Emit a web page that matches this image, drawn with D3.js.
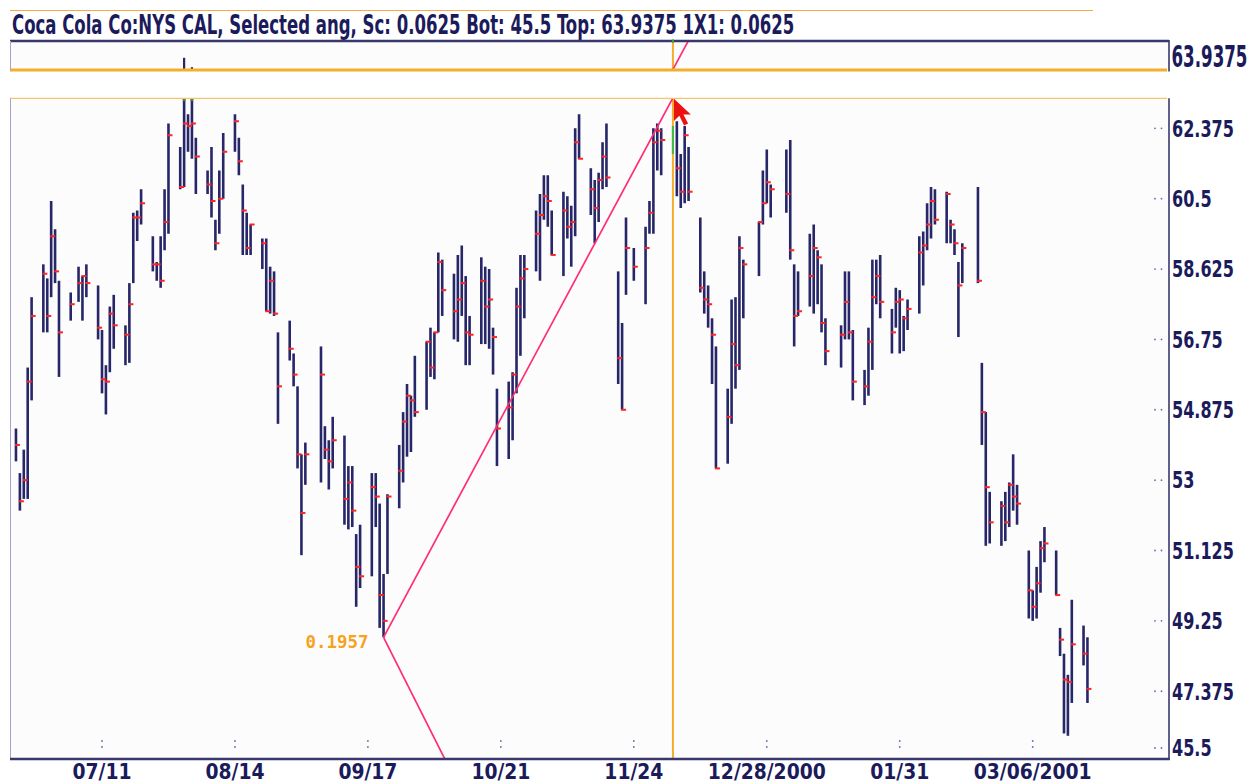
<!DOCTYPE html>
<html>
<head>
<meta charset="utf-8">
<script src="https://cdn.jsdelivr.net/npm/d3@7"></script>
<style>
body { margin: 0; background: #ffffff; }
</style>
</head>
<body>
<script>
// canvas size
var w = 1252;
var h = 784;

// chart title
var title = "Coca Cola Co:NYS CAL, Selected ang, Sc: 0.0625 Bot: 45.5 Top: 63.9375 1X1: 0.0625";

// trading days shown on the chart
var dates = [
  "2000-06-19","2000-06-20","2000-06-21","2000-06-22","2000-06-23",
  "2000-06-26","2000-06-27","2000-06-28","2000-06-29","2000-06-30",
  "2000-07-03","2000-07-05","2000-07-06","2000-07-07",
  "2000-07-10","2000-07-11","2000-07-12","2000-07-13","2000-07-14",
  "2000-07-17","2000-07-18","2000-07-19","2000-07-20","2000-07-21",
  "2000-07-24","2000-07-25","2000-07-26","2000-07-27","2000-07-28",
  "2000-07-31","2000-08-01","2000-08-02","2000-08-03","2000-08-04",
  "2000-08-07","2000-08-08","2000-08-09","2000-08-10","2000-08-11",
  "2000-08-14","2000-08-15","2000-08-16","2000-08-17","2000-08-18",
  "2000-08-21","2000-08-22","2000-08-23","2000-08-24","2000-08-25",
  "2000-08-28","2000-08-29","2000-08-30","2000-08-31","2000-09-01",
  "2000-09-05","2000-09-06","2000-09-07","2000-09-08",
  "2000-09-11","2000-09-12","2000-09-13","2000-09-14","2000-09-15",
  "2000-09-18","2000-09-19","2000-09-20","2000-09-21","2000-09-22",
  "2000-09-25","2000-09-26","2000-09-27","2000-09-28","2000-09-29",
  "2000-10-02","2000-10-03","2000-10-04","2000-10-05","2000-10-06",
  "2000-10-09","2000-10-10","2000-10-11","2000-10-12","2000-10-13",
  "2000-10-16","2000-10-17","2000-10-18","2000-10-19","2000-10-20",
  "2000-10-23","2000-10-24","2000-10-25","2000-10-26","2000-10-27",
  "2000-10-30","2000-10-31","2000-11-01","2000-11-02","2000-11-03",
  "2000-11-06","2000-11-07","2000-11-08","2000-11-09","2000-11-10",
  "2000-11-13","2000-11-14","2000-11-15","2000-11-16","2000-11-17",
  "2000-11-20","2000-11-21","2000-11-22","2000-11-24",
  "2000-11-27","2000-11-28","2000-11-29","2000-11-30","2000-12-01",
  "2000-12-04","2000-12-05","2000-12-06","2000-12-07","2000-12-08",
  "2000-12-11","2000-12-12","2000-12-13","2000-12-14","2000-12-15",
  "2000-12-18","2000-12-19","2000-12-20","2000-12-21","2000-12-22",
  "2000-12-26","2000-12-27","2000-12-28","2000-12-29",
  "2001-01-02","2001-01-03","2001-01-04","2001-01-05",
  "2001-01-08","2001-01-09","2001-01-10","2001-01-11","2001-01-12",
  "2001-01-16","2001-01-17","2001-01-18","2001-01-19",
  "2001-01-22","2001-01-23","2001-01-24","2001-01-25","2001-01-26",
  "2001-01-29","2001-01-30","2001-01-31","2001-02-01","2001-02-02",
  "2001-02-05","2001-02-06","2001-02-07","2001-02-08","2001-02-09",
  "2001-02-12","2001-02-13","2001-02-14","2001-02-15","2001-02-16",
  "2001-02-20","2001-02-21","2001-02-22","2001-02-23",
  "2001-02-26","2001-02-27","2001-02-28","2001-03-01","2001-03-02",
  "2001-03-05","2001-03-06","2001-03-07","2001-03-08","2001-03-09",
  "2001-03-12","2001-03-13","2001-03-14","2001-03-15","2001-03-16",
  "2001-03-19","2001-03-20"
];

var highs = [
  54.375,53.1875,53.8125,56,57.875, 58.75,58.375,60.4375,59.6875,58.3125,
  58,58.6875,58.4375,58.75, 58.1875,57,56.0625,57.625,57.9375,
  57.125,58.25,60.125,60.1875,60.75, 59.5,58.8125,59.5,60.75,62.5,
  61.875,63.5,62.75,63.25,62.125, 61.25,61.875,59.9375,61.25,62.25,
  62.75,62.125,60.875,60.125,59.8125, 59.4375,59.4375,58.6875,58.5625,56.9375,
  57.25,56.375,55.5,53.6875,54, 56.5625,54.4375,54.0625,54.6875,
  54.1875,53.375,53.375,51.5625,51.8125, 53.1875,53.1875,52.375,50.5,52.625,
  53.9375,54.8125,55.5625,55.25,56.3125, 56.6875,57.0625,56.9375,59.0625,58.875,
  58.5,59,59.25,58.4375,57.375, 58.9375,58.6875,58.625,57.0625,55.4375,
  55.625,55.875,58.125,59,59, 60.1875,60.625,61.125,61.125,60.1875,
  60.6875,60.5625,60.3125,62.375,62.75, 61.3125,61,61.1875,62,62.5,
  58.5625,57.1875,60,59.1875, 59.75,60.4375,62.375,62.5,62.375,
  62.4375,62.5625,61.6875,62.4375,61.875, 60,58.5625,58.1875,57.3125,56.5625,
  55.4375,57.8125,57.875,59.5,58.875, 59.875,61.25,61.8125,60.875,
  61.8125,62.0625,58.75,58.5625, 59.5625,59.8125,59.125,58.75,57.3125,
  57.125,58.5625,58.5625,57, 55.9375,57.0625,58.875,58.875,59,
  57.5625,58.125,58.0625,57.375,57.8125, 59.5,59.625,60.375,60.8125,60.75,
  60.6875,59.9375,59.6875,58.8125,59.3125, 60.8125,56.125,54.8125,52.6875,
  52.4375,52.6875,52.9375,53.6875,52.875, 51.125,50.0625,50.6875,51.375,51.75,
  51.125,49.0625,48.375,47.8125,49.8125, 49.125,48.8125
];

var lows = [
  53.5,52.1875,52.5,52.5,55.125, 56.9375,56.9375,57.875,58.25,55.75,
  57.25,57.75,57.25,57.875, 56.75,55.3125,54.75,55.875,56.5,
  56.0625,56.125,58.25,59.375,59.8125, 58.5625,58.3125,58.125,59.125,59.5625,
  60.75,60.8125,61.75,61.5625,60.625, 60.625,60,59.125,59.5625,60.5,
  61.75,61.125,59,59,59, 58.625,57.5,57.4375,57.375,54.5,
  56.1875,55.5,53.3125,51,52.875, 52.9375,53.5625,52.75,53.3125,
  51.8125,51.6875,51.75,49.625,50.125, 50.4375,51.75,49.0625,48.8125,50.5,
  52.25,52.9375,53.625,53.75,54.6875, 54.875,55.75,55.6875,56.9375,57.375,
  56.75,56.6875,57.375,56.0625,56.0625, 56.625,56.625,56.5,55.8125,53.375,
  53.5625,54.0625,55.3125,56.3125,57.3125, 58.5625,58.3125,59.9375,59.75,59,
  58.4375,59.4375,58.6875,59.5,61.5625, 60.0625,59.3125,59.875,60.75,60.8125,
  55.5625,54.875,57.9375,58.3125, 57.6875,59.5625,59.5625,61.25,61.125,
  61.6875,60.5625,60.25,60.375,60.4375, 58,57.4375,57.0625,55.5625,53.3125,
  53.4375,54.5,55.4375,55.9375,57.3125, 58.4375,59.8125,60.375,60,
  60.125,58.875,56.5625,57.375, 57.625,57.4375,57.6875,56.9375,56.0625,
  56,56.75,56.75,55.125, 55,55.25,55.9375,57.6875,57.3125,
  56.375,57.0625,56.375,56.4375,57, 57.4375,58.1875,59.125,59.4375,59.8125,
  59.3125,59.3125,59,56.8125,58.25, 58.25,53.9375,51.25,51.3125,
  51.25,51.375,51.75,52.1875,51.8125, 49.3125,49.25,49.3125,50,50.8125,
  49.9375,48.3125,46.25,46.1875,47.0625, 48.0625,47.0625
];

var closes = [
  53.9375,52.4375,53,55.625,57.375, 58.5,57.375,59.5,58.5625,56.9375,
  57.6875,58.25,58.4375,58.25, 57.0625,55.6875,55.625,57.4375,57.125,
  56.875,57.6875,60,60,60.375, 58.75,58.75,58.3125,59.875,62.1875,
  60.8125,62.5,62.4375,62.5,61.625, 60.875,60.4375,59.3125,60.5,61.75,
  62.5625,61.5,60.1875,59.1875,59.8125, 59.3125,57.5,58.3125,57.4375,55.5,
  56.5,55.8125,53.6875,52.125,53.6875, 55.8125,53.8125,53.5,54.0625,
  52.5,52.9375,52.1875,50.6875,50.4375, 52.8125,52.5625,49.9375,49.25,52.5625,
  53.25,54.5625,55.25,55.125,54.8125, 56.6875,56,56.9375,58.8125,58.0625,
  57.5,57.8125,58.25,56.9375,56.875, 58.3125,57.625,57.8125,56.8125,54.375,
  54.9375,55.8125,57.625,58.375,58.625, 59.5625,60.0625,60.5625,60.4375,59,
  60.1875,59.75,59.875,62,61.5625, 60.75,60.25,61,61.625,61.0625,
  56.25,54.875,59.1875,58.6875, 59.1875,60.125,62,62.3125,62.0625,
  62,61.3125,60.6875,62.1875,60.6875, 58.125,57.8125,57.6875,56.875,53.3125,
  54.6875,56.625,56.0625,59.1875,58.75, 59.875,60.375,60.9375,60.75,
  60.625,59.125,57.375,57.5, 58.4375,59.1875,58.9375,57.1875,56.4375,
  56.875,57.75,56.9375,55.625, 55.5,56.6875,57.875,58.4375,57.75,
  56.9375,57.75,57.8125,57.3125,57.5625, 59.0625,59.25,59.8125,60.4375,59.9375,
  60.625,59.8125,59.3125,58.1875,59.1875, 58.3125,54.8125,52.8125,51.875,
  52.3125,51.875,52.875,52.5625,52.375, 50.0625,49.625,50.25,51.1875,51.3125,
  49.9375,48.75,47.6875,47.625,48.625, 48.375,47.4375
];

// selected bar (drawn green, marked by the vertical cursor line)
var selectedDate = "2000-12-04";

// price axis labels
var yTicks = [62.375, 60.5, 58.625, 56.75, 54.875, 53, 51.125, 49.25, 47.375, 45.5];
var topValue = 63.9375;

// date axis labels
var xTickDates = ["2000-07-11","2000-08-14","2000-09-17","2000-10-21","2000-11-24","2000-12-28","2001-01-31","2001-03-06"];
var xTickLabels = ["07/11","08/14","09/17","10/21","11/24","12/28/2000","01/31","03/06/2001"];

// angle tool: pivot, the point it runs up to and the down leg
var angleStart = { date: "2000-09-21", value: 48.8125 };
var angleEnd = { date: "2000-12-04", value: 63.1875 };
var angleDown = { date: "2000-10-07", value: 45.5 };
var angleLabel = "0.1957";

// layout
var left = 10, right = 1169;
var mainTop = 98.3, mainBottom = 759;
var panelTop = 41, panelBottom = 70;
var panelShift = mainTop - panelBottom; // top strip continues the price scale

var navy = "#1b1b5c";
var barColor = "#262668";
var orange = "#f5ae2c";
var pink = "#ff2d78";
var font = "'DejaVu Sans Condensed', 'DejaVu Sans', sans-serif";

var parse = d3.utcParse("%Y-%m-%d");

var bars = dates.map(function(d, i) {
  return { date: parse(d), key: d, high: highs[i], low: lows[i], close: closes[i] };
});

var x = d3.scaleUtc()
  .domain([parse("2000-07-11"), parse("2001-03-06")])
  .range([102, 1032.7]);

var y = d3.scaleLinear()
  .domain([45.5, 62.375])
  .range([761.6, 128.3]);

var svg = d3.select("body")
  .append("svg")
  .attr("width", w)
  .attr("height", h);

var defs = svg.append("defs");
defs.append("clipPath").attr("id", "clipMain")
  .append("rect")
  .attr("x", left).attr("y", mainTop)
  .attr("width", right - left).attr("height", mainBottom - mainTop);
defs.append("clipPath").attr("id", "clipTop")
  .append("rect")
  .attr("x", left).attr("y", panelTop)
  .attr("width", right - left).attr("height", panelBottom - panelTop);

// narrow text: placed in a group at (px, py), then scaled horizontally
function narrowText(parent, px, py, str, size, anchor, family) {
  var t = parent.append("g")
    .attr("transform", "translate(" + px + "," + py + ")")
    .append("text")
    .attr("text-anchor", anchor || "start")
    .attr("font-family", family || font)
    .attr("font-weight", "bold")
    .attr("font-size", size)
    .attr("fill", navy)
    .text(str);
  return t;
}
function squeeze(t, k) {
  t.attr("transform", "scale(" + k + ",1)");
}

// top rule and title
svg.append("line")
  .attr("x1", left).attr("x2", 1093)
  .attr("y1", 10.5).attr("y2", 10.5)
  .attr("stroke", "#f6a84a").attr("stroke-width", 1);

var titleText = narrowText(svg, 12, 34, title, 26);
squeeze(titleText, 783 / titleText.node().getComputedTextLength());

// panel backgrounds
svg.append("rect")
  .attr("x", left).attr("y", panelTop)
  .attr("width", right - left).attr("height", panelBottom - panelTop)
  .attr("fill", "#fcfcfc");
svg.append("rect")
  .attr("x", left).attr("y", mainTop)
  .attr("width", right - left).attr("height", mainBottom - mainTop)
  .attr("fill", "#fcfcfc");

var selX = x(parse(selectedDate));

// ---------- main panel ----------
var main = svg.append("g").attr("clip-path", "url(#clipMain)");

// vertical cursor line
main.append("line")
  .attr("x1", selX).attr("x2", selX)
  .attr("y1", mainTop).attr("y2", mainBottom)
  .attr("stroke", orange).attr("stroke-width", 2);

// high-low bars
main.selectAll(".bar")
  .data(bars.filter(function(d) { return d.key !== selectedDate; }))
  .enter()
  .append("line")
  .attr("class", "bar")
  .attr("x1", function(d) { return x(d.date); })
  .attr("x2", function(d) { return x(d.date); })
  .attr("y1", function(d) { return y(d.high); })
  .attr("y2", function(d) { return y(d.low); })
  .attr("stroke", barColor)
  .attr("stroke-width", 2.6);

// bars running past the top edge get a green tip
main.selectAll(".tip")
  .data(bars.filter(function(d) { return y(d.high) < mainTop; }))
  .enter()
  .append("line")
  .attr("x1", function(d) { return x(d.date); })
  .attr("x2", function(d) { return x(d.date); })
  .attr("y1", mainTop)
  .attr("y2", mainTop + 3)
  .attr("stroke", "#3c8c3c")
  .attr("stroke-width", 2.6);

// close ticks
main.selectAll(".close")
  .data(bars.filter(function(d) { return d.key !== selectedDate; }))
  .enter()
  .append("line")
  .attr("class", "close")
  .attr("x1", function(d) { return x(d.date) - 1; })
  .attr("x2", function(d) { return x(d.date) + 4; })
  .attr("y1", function(d) { return y(d.close); })
  .attr("y2", function(d) { return y(d.close); })
  .attr("stroke", "#ff2424")
  .attr("stroke-width", 2);

// selected bar
var selBar = bars.filter(function(d) { return d.key === selectedDate; })[0];
main.append("line")
  .attr("x1", selX).attr("x2", selX)
  .attr("y1", y(selBar.high)).attr("y2", y(selBar.low))
  .attr("stroke", "#44bb44").attr("stroke-width", 2.2);

// angle lines
var p0 = [x(parse(angleStart.date)), y(angleStart.value)];
var p1 = [x(parse(angleEnd.date)), y(angleEnd.value)];
var p2 = [x(parse(angleDown.date)), y(angleDown.value)];

main.append("line")
  .attr("x1", p0[0]).attr("y1", p0[1])
  .attr("x2", p1[0]).attr("y2", p1[1])
  .attr("stroke", pink).attr("stroke-width", 1.7);
main.append("line")
  .attr("x1", p0[0]).attr("y1", p0[1])
  .attr("x2", p2[0]).attr("y2", p2[1])
  .attr("stroke", pink).attr("stroke-width", 1.7);

var angText = narrowText(main, p0[0] - 15, p0[1] + 11, angleLabel, 17, "end", "'DejaVu Sans Mono', monospace")
  .attr("fill", "#f7a21e");
squeeze(angText, 63 / angText.node().getComputedTextLength());

// mouse cursor at the end of the angle line
var arrow = [[0,0],[0,17],[4,13],[7.5,20.5],[10.5,19],[7,12],[12.5,12]];
svg.append("polygon")
  .attr("points", arrow.map(function(p) { return [p1[0] + 1 + p[0] * 1.35, p1[1] + 1 + p[1] * 1.3].join(","); }).join(" "))
  .attr("fill", "#ee1111");

// ---------- top strip (continuation of the price scale) ----------
var topG = svg.append("g").attr("clip-path", "url(#clipTop)")
  .append("g").attr("transform", "translate(0," + (-panelShift) + ")");

topG.selectAll(".bar")
  .data(bars.filter(function(d) { return y(d.high) < mainTop; }))
  .enter()
  .append("line")
  .attr("x1", function(d) { return x(d.date); })
  .attr("x2", function(d) { return x(d.date); })
  .attr("y1", function(d) { return y(d.high); })
  .attr("y2", mainTop)
  .attr("stroke", barColor)
  .attr("stroke-width", 2.2);

topG.append("line")
  .attr("x1", selX).attr("x2", selX)
  .attr("y1", y(topValue) - 5).attr("y2", mainTop)
  .attr("stroke", orange).attr("stroke-width", 2);

var ext = 1.2;
topG.append("line")
  .attr("x1", p0[0]).attr("y1", p0[1])
  .attr("x2", p0[0] + (p1[0] - p0[0]) * ext)
  .attr("y2", p0[1] + (p1[1] - p0[1]) * ext)
  .attr("stroke", pink).attr("stroke-width", 1.7);

// ---------- frames ----------
// top strip
svg.append("line")
  .attr("x1", left).attr("x2", right)
  .attr("y1", panelTop).attr("y2", panelTop)
  .attr("stroke", "#38386e").attr("stroke-width", 2.5);
svg.append("line")
  .attr("x1", selX).attr("x2", selX)
  .attr("y1", panelTop - 1.5).attr("y2", panelTop + 1.5)
  .attr("stroke", "#3c9c3c").attr("stroke-width", 2);
svg.append("line")
  .attr("x1", left).attr("x2", right - 2)
  .attr("y1", panelBottom).attr("y2", panelBottom)
  .attr("stroke", orange).attr("stroke-width", 3);
svg.append("line")
  .attr("x1", left + 0.5).attr("x2", left + 0.5)
  .attr("y1", panelTop).attr("y2", panelBottom)
  .attr("stroke", "#a4a4c8").attr("stroke-width", 1);
svg.append("line")
  .attr("x1", right).attr("x2", right)
  .attr("y1", panelTop - 1).attr("y2", panelBottom + 1.5)
  .attr("stroke", "#38386e").attr("stroke-width", 1.6);

// main panel
svg.append("line")
  .attr("x1", left).attr("x2", right - 2)
  .attr("y1", mainTop).attr("y2", mainTop)
  .attr("stroke", "#f8c46a").attr("stroke-width", 1.2);
svg.append("line")
  .attr("x1", left + 0.5).attr("x2", left + 0.5)
  .attr("y1", mainTop).attr("y2", mainBottom)
  .attr("stroke", "#a4a4c8").attr("stroke-width", 1);
svg.append("line")
  .attr("x1", right).attr("x2", right)
  .attr("y1", mainTop).attr("y2", mainBottom + 1)
  .attr("stroke", "#38386e").attr("stroke-width", 1.6);
svg.append("line")
  .attr("x1", left).attr("x2", right + 0.8)
  .attr("y1", mainBottom).attr("y2", mainBottom)
  .attr("stroke", "#38386e").attr("stroke-width", 2.6);

// ---------- price axis ----------
var yLab = svg.append("g");
var yPos = function(v) { return Math.min(y(v), mainBottom - 11); };

yTicks.forEach(function(v) {
  [1155, 1161.5].forEach(function(dx) {
    yLab.append("circle")
      .attr("cx", dx).attr("cy", yPos(v))
      .attr("r", 0.9).attr("fill", "#6c6ca0");
  });
});

var yTexts = yTicks.map(function(v) {
  return narrowText(yLab, 1172, yPos(v) + 8.3, String(v), 23);
});
var kY = 62 / yTexts[0].node().getComputedTextLength();
yTexts.forEach(function(t) { squeeze(t, kY); });

var topLab = narrowText(svg, 1171.5, (panelTop + panelBottom) / 2 + 11.5, String(topValue), 30);
squeeze(topLab, 76 / topLab.node().getComputedTextLength());

// ---------- date axis ----------
var xLab = svg.append("g");
xTickDates.forEach(function(d) {
  [741, 747].forEach(function(cy) {
    xLab.append("circle")
      .attr("cx", x(parse(d))).attr("cy", cy)
      .attr("r", 0.9).attr("fill", "#6c6ca0");
  });
});

var xTexts = xTickDates.map(function(d, i) {
  return narrowText(xLab, x(parse(d)), 778.5, xTickLabels[i], 22, "middle");
});
var kX = 59 / xTexts[0].node().getComputedTextLength();
xTexts.forEach(function(t) { squeeze(t, kX); });
</script>
</body>
</html>
